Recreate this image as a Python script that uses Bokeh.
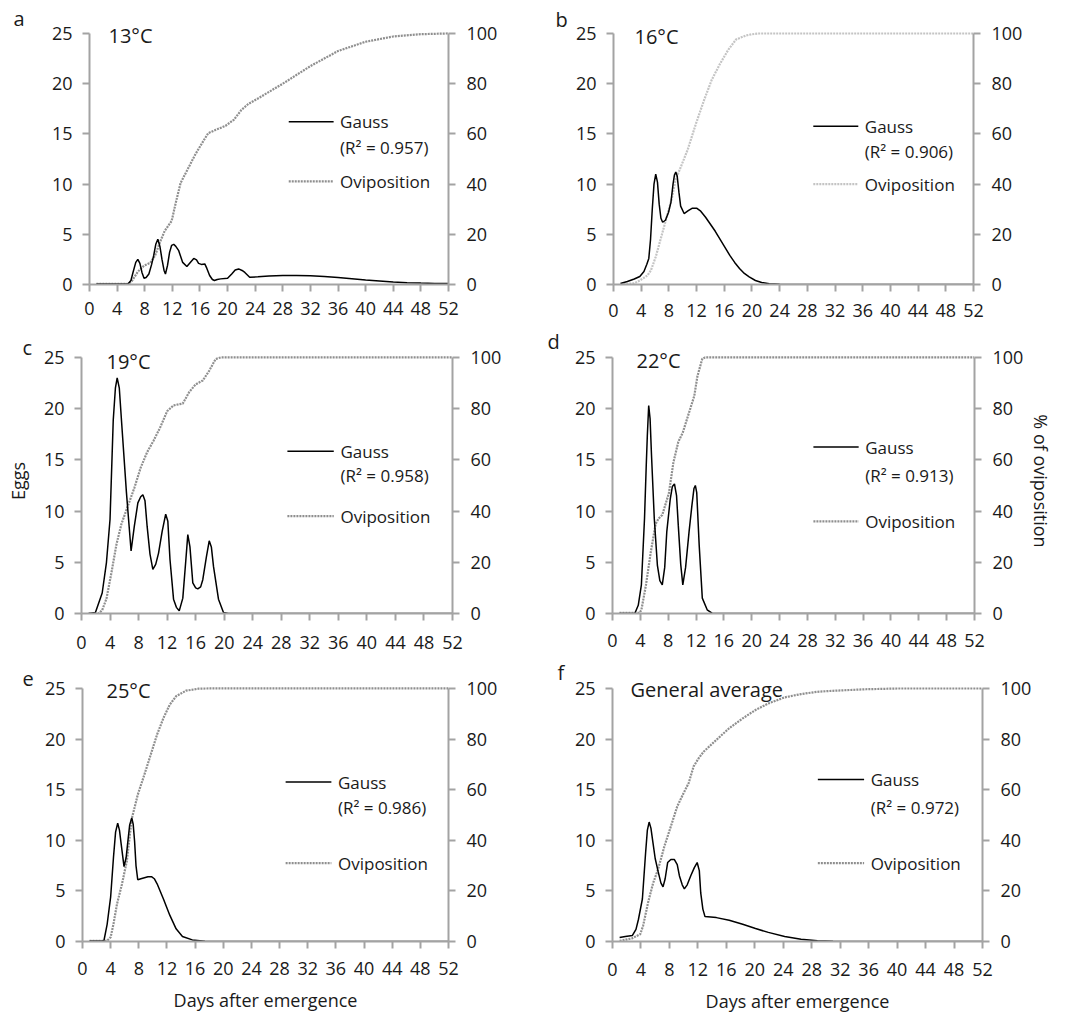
from bokeh.plotting import figure
from bokeh.models import Range1d, LinearAxis, FixedTicker, Label, Arrow, Title
from bokeh.layouts import column, row
from bokeh.embed import file_html
from bokeh.resources import INLINE

FONT = "Open Sans"
TXT = "#1a1a1a"
AXC = "#a3a3a3"

# ---------------- data ----------------
x_ticks = list(range(0, 53, 4))
egg_ticks = [0, 5, 10, 15, 20, 25]
pct_ticks = [0, 20, 40, 60, 80, 100]

panel_letters = ["a", "b", "c", "d", "e", "f"]
panel_titles = ["13°C", "16°C", "19°C", "22°C", "25°C", "General average"]
r2_labels = ["(R² = 0.957)", "(R² = 0.906)", "(R² = 0.958)",
             "(R² = 0.913)", "(R² = 0.986)", "(R² = 0.972)"]

# 13 °C
gauss_a_day = [1, 3, 5.6, 6.0, 6.3, 6.7, 7.0, 7.3, 7.6, 7.9, 8.2, 8.6, 9.0, 9.3, 9.6, 9.9, 10.2, 10.5,
               10.8, 11.0, 11.3, 11.6, 11.9, 12.2, 12.5, 12.9, 13.5, 14.1, 14.6, 15.1, 15.5, 15.8, 16.2,
               16.7, 17.0, 17.4, 17.8, 18.1, 18.5, 19.0, 20.0, 20.6, 21.1, 21.6, 22.1, 22.5, 23.2, 24.4,
               26, 28, 30, 32, 34, 36, 38, 40, 42, 44, 46, 48, 50, 52]
gauss_a_eggs = [0.05, 0.05, 0.07, 0.4, 1.2, 2.2, 2.5, 2.1, 1.2, 0.63, 0.7, 1.05, 2.0, 2.9, 4.0, 4.5, 3.8,
                2.5, 1.4, 1.05, 1.9, 3.2, 3.9, 4.0, 3.8, 3.4, 2.2, 1.8, 2.2, 2.6, 2.45, 2.1, 2.0, 2.05,
                1.6, 0.9, 0.5, 0.4, 0.5, 0.56, 0.63, 1.05, 1.45, 1.55, 1.4, 1.2, 0.73, 0.76, 0.85, 0.9,
                0.9, 0.87, 0.8, 0.7, 0.58, 0.45, 0.35, 0.25, 0.18, 0.14, 0.11, 0.1]
ovi_a_day = [1, 5.6, 6.1, 7.0, 7.9, 8.8, 9.5, 10.2, 10.9, 11.9, 12.5, 13.2, 14.2, 15.3, 16.3, 17.2,
             18.3, 19.7, 20.9, 22.0, 23.0, 24.4, 28, 32, 36, 40, 44, 48, 52]
ovi_a_pct = [0.3, 0.3, 1.2, 5.1, 7.5, 8.6, 11.5, 16.8, 21.4, 25.3, 32.6, 40.5, 45.8, 51.7, 56.3, 60.3,
             61.6, 63.2, 65.6, 69.5, 71.9, 74.1, 80, 87, 93, 96.7, 98.8, 99.7, 100]

# 16 °C
gauss_b_day = [1.0, 2.0, 3.0, 3.8, 4.4, 4.8, 5.1, 5.35, 5.6, 5.85, 6.1, 6.35, 6.6, 6.85, 7.1, 7.5, 7.95,
               8.3, 8.6, 8.8, 9.0, 9.2, 9.45, 9.7, 10.2, 10.8, 11.4, 12.0, 12.6, 13.3, 14.0, 14.7, 15.4,
               16.1, 16.8, 17.5, 18.2, 18.9, 19.6, 20.5, 21.4, 22.5, 24, 28, 52]
gauss_b_eggs = [0.1, 0.3, 0.55, 0.8, 1.3, 2.0, 2.6, 4.5, 7.5, 10.0, 11.0, 10.2, 8.0, 6.6, 6.2, 6.4, 7.2,
                8.2, 10.0, 10.9, 11.2, 10.8, 9.2, 7.8, 7.07, 7.35, 7.6, 7.6, 7.3, 6.7, 6.0, 5.3, 4.5,
                3.7, 2.9, 2.2, 1.6, 1.1, 0.75, 0.4, 0.2, 0.07, 0.02, 0, 0]
ovi_b_day = [1, 3, 3.8, 4.9, 5.4, 6.1, 6.8, 7.3, 8.4, 9.0, 9.6, 10.7, 11.9, 13.1, 14.2, 15.4, 16.6,
             17.7, 19.1, 20.0, 21.0, 22, 52]
ovi_b_pct = [0, 0.5, 1.6, 3.6, 5.6, 11, 18, 23, 34, 42, 46, 53.6, 64, 73.6, 81.6, 88, 93.6, 97.6,
             99.2, 99.7, 100, 100, 100]

# 19 °C
gauss_c_day = [1.0, 1.95, 2.9, 3.5, 4.0, 4.45, 4.75, 5.0, 5.3, 5.6, 6.3, 6.95, 7.4, 7.9, 8.3, 8.6, 8.9,
               9.2, 9.6, 10.0, 10.4, 10.8, 11.3, 11.8, 12.1, 12.4, 12.9, 13.3, 13.7, 14.2, 14.6, 14.9,
               15.2, 15.6, 16.0, 16.3, 16.7, 17.0, 17.5, 17.9, 18.2, 18.5, 19.2, 19.9, 20.6, 22, 52]
gauss_c_eggs = [0, 0.1, 2.0, 5.0, 9.2, 18.9, 22.0, 23.0, 22.0, 18.9, 11.8, 6.1, 8.5, 10.8, 11.4, 11.6,
                11.0, 8.5, 5.8, 4.3, 4.8, 5.9, 8.0, 9.7, 9.0, 5.3, 1.4, 0.6, 0.26, 1.5, 5.0, 7.7, 6.5,
                3.0, 2.5, 2.4, 2.6, 3.3, 5.5, 7.1, 6.5, 4.6, 1.4, 0.1, 0, 0, 0]
ovi_c_day = [1, 2.4, 2.9, 3.5, 4.2, 4.9, 5.6, 6.5, 7.4, 8.3, 9.2, 10.1, 11.0, 12.0, 12.9, 14.2, 15.1,
             16.0, 17.0, 17.9, 18.8, 19.5, 52]
ovi_c_pct = [0, 0, 1.3, 5.8, 16, 27, 35, 42, 49, 57, 63, 67.5, 72.5, 79, 81.3, 82, 86.5, 89.5, 91,
             94.8, 99.4, 100, 100]

# 22 °C
gauss_d_day = [1, 3.2, 3.7, 4.15, 4.6, 4.85, 5.0, 5.2, 5.4, 5.6, 6.0, 6.45, 6.8, 7.15, 7.5, 7.8, 8.3,
               8.6, 8.9, 9.2, 9.45, 9.8, 10.1, 10.5, 11.0, 11.4, 11.7, 11.9, 12.1, 12.45, 12.9, 13.6,
               14.3, 15, 52]
gauss_d_eggs = [0, 0, 0.8, 2.8, 9.3, 14.5, 17.3, 20.3, 19.0, 15.5, 9.3, 4.7, 3.2, 2.8, 4.5, 8.0, 11.2,
                12.4, 12.65, 11.5, 8.6, 4.8, 2.8, 4.5, 8.0, 10.5, 12.2, 12.5, 11.8, 6.7, 1.5, 0.36,
                0.03, 0, 0]
ovi_d_day = [1, 3.9, 4.15, 4.8, 5.5, 6.2, 6.6, 7.15, 8.1, 8.75, 9.45, 10.1, 11.0, 11.75, 12.2, 12.9,
             13.3, 52]
ovi_d_pct = [0.3, 0.3, 1.4, 11, 24, 35, 37, 38.5, 47, 59, 67, 70.7, 78.5, 85, 92.7, 99.5, 100, 100]

# 25 °C
gauss_e_day = [1, 2.8, 3.05, 3.5, 4.0, 4.4, 4.7, 5.0, 5.25, 5.5, 5.9, 6.2, 6.4, 6.7, 7.0, 7.2, 7.4,
               7.6, 7.85, 8.3, 8.8, 9.3, 9.8, 10.2, 10.6, 11.5, 12.4, 13.3, 14.2, 15.6, 17.4, 19, 52]
gauss_e_eggs = [0.05, 0.05, 0.1, 1.7, 4.4, 8.3, 10.8, 11.7, 11.0, 9.6, 7.4, 8.3, 9.6, 11.5, 12.2, 11.6,
                9.9, 7.5, 6.1, 6.2, 6.3, 6.4, 6.4, 6.2, 5.7, 4.2, 2.6, 1.25, 0.5, 0.16, 0.03, 0, 0]
ovi_e_day = [1, 3.5, 4.0, 4.4, 4.9, 5.6, 6.3, 7.0, 7.85, 8.8, 9.7, 10.6, 11.5, 12.4, 13.3, 14.7, 16.5,
             18, 52]
ovi_e_pct = [0.3, 0.3, 1.7, 6.9, 14.8, 22.6, 31.8, 48.5, 58, 66, 73.9, 81.8, 88.3, 93.6, 96.9, 99.1,
             99.9, 100, 100]

# general average
gauss_f_day = [1.0, 1.8, 2.8, 3.3, 3.65, 4.2, 4.65, 4.9, 5.15, 5.4, 5.7, 6.0, 6.4, 6.8, 7.1, 7.4, 7.75,
               8.2, 8.7, 9.1, 9.4, 9.8, 10.1, 10.5, 11.0, 11.5, 11.9, 12.2, 12.4, 12.7, 13.0, 14.6,
               16.4, 18.3, 20.1, 21.9, 24.2, 26.5, 28.8, 31, 34, 52]
gauss_f_eggs = [0.4, 0.5, 0.6, 1.2, 2.2, 4.2, 8.75, 11.0, 11.8, 11.2, 9.7, 8.2, 6.95, 5.8, 5.4, 6.2,
                7.8, 8.1, 8.1, 7.6, 6.5, 5.6, 5.2, 5.6, 6.5, 7.3, 7.8, 7.0, 4.8, 3.2, 2.46, 2.36, 2.1,
                1.7, 1.28, 0.9, 0.5, 0.23, 0.07, 0.02, 0, 0]
ovi_f_day = [1, 2.7, 3.9, 4.3, 5.0, 5.7, 6.4, 7.3, 8.2, 9.1, 10.0, 10.7, 11.4, 12.1, 12.8, 14.6, 16.4,
             18.3, 20.1, 21.9, 24.2, 26.5, 28.8, 31, 35.6, 40, 52]
ovi_f_pct = [0.26, 1.2, 2.9, 6.2, 15.4, 23, 28.5, 37.7, 45.5, 53.4, 58.7, 62.6, 69.2, 72.4, 75, 79.7,
             84.3, 88.2, 91.5, 94.1, 96.5, 97.8, 98.7, 99.1, 99.7, 100, 100]

gauss_days = [gauss_a_day, gauss_b_day, gauss_c_day, gauss_d_day, gauss_e_day, gauss_f_day]
gauss_eggs = [gauss_a_eggs, gauss_b_eggs, gauss_c_eggs, gauss_d_eggs, gauss_e_eggs, gauss_f_eggs]
ovi_days = [ovi_a_day, ovi_b_day, ovi_c_day, ovi_d_day, ovi_e_day, ovi_f_day]
ovi_pcts = [ovi_a_pct, ovi_b_pct, ovi_c_pct, ovi_d_pct, ovi_e_pct, ovi_f_pct]

# ---------------- layout (page pixels) ----------------
col_edges = [(0, 535), (535, 1065)]
row_edges = [(0, 327), (327, 657), (657, 1015)]
row_pad = [7, 9, 11]  # empty plot area kept above the 25 tick
# frame: x of day 0, x of day 52, y of 25 eggs, y of 0 eggs
frames = [(89, 448, 33, 286), (613, 973, 33, 284),
          (81, 452, 356, 613), (612, 974, 357, 615),
          (82, 448, 688, 943), (612, 982, 688, 941)]
title_dx = [19, 21, 25, 24, 24, 18]           # temperature label left edge from frame left
title_mid = [2.5, 2.5, 4.5, 3.5, 2.0, 1.0]    # temperature label centre below the 25 tick
letter_left = [13, 555, 22, 547, 22, 557]     # page x of panel letter
letter_base = [26, 26.7, 353.3, 348.8, 680, 679.5]  # page y of panel letter baseline
x_label_standoff = [10, 12, 15, 13, 13, 14]
legend_rows = [(0.352, 0.455, 0.589), (0.37, 0.47, 0.60), (0.366, 0.46, 0.62),
               (0.35, 0.46, 0.64), (0.37, 0.47, 0.69), (0.36, 0.47, 0.69)]
ovi_colors = ["#8f8f8f", "#c4c4c4", "#8f8f8f", "#8f8f8f", "#8f8f8f", "#8f8f8f"]
LETTER_SIZE = 20
DESCENT = 0.285 * LETTER_SIZE


def style_axis(ax, standoff):
    ax.axis_line_color = AXC
    ax.axis_line_width = 2
    ax.major_tick_line_color = AXC
    ax.major_tick_line_width = 2
    ax.major_tick_out = 7
    ax.major_tick_in = 0
    ax.minor_tick_line_color = None
    ax.major_label_text_font = FONT
    ax.major_label_text_font_size = "18px"
    ax.major_label_text_color = TXT
    ax.major_label_standoff = standoff
    ax.axis_label_text_font = FONT
    ax.axis_label_text_font_size = "18px"
    ax.axis_label_text_font_style = "normal"
    ax.axis_label_text_color = TXT


def make_panel(i):
    c0, c1 = col_edges[i % 2]
    r0, r1 = row_edges[i // 2]
    pad = row_pad[i // 2]
    fx0, fx1, fy25, fy0 = frames[i]
    W, H = c1 - c0, r1 - r0
    ftop = fy25 - pad
    bl, br, bt, bb = fx0 - c0, c1 - fx1, ftop - r0, r1 - fy0
    fw = fx1 - fx0
    ppe = (fy0 - fy25) / 25.0  # pixels per egg
    ytop = 25.0 + pad / ppe

    p = figure(width=W, height=H, x_range=Range1d(0, 52), y_range=Range1d(0, ytop),
               output_backend="svg", toolbar_location=None, title=None,
               min_border_left=bl, min_border_right=br, min_border_top=bt, min_border_bottom=bb)
    p.extra_y_ranges = {"pct": Range1d(0, ytop * 4.0)}
    p.outline_line_color = None
    p.xgrid.visible = False
    p.ygrid.visible = False
    p.background_fill_color = "white"
    p.border_fill_color = "white"

    p.xaxis.ticker = FixedTicker(ticks=x_ticks)
    p.yaxis.ticker = FixedTicker(ticks=egg_ticks)
    p.yaxis.bounds = (0, 25)
    style_axis(p.xaxis[0], x_label_standoff[i])
    style_axis(p.yaxis[0], 10)
    right = LinearAxis(y_range_name="pct", ticker=FixedTicker(ticks=pct_ticks), bounds=(0, 100))
    style_axis(right, 11)
    p.add_layout(right, "right")

    if i == 2:
        p.yaxis[0].axis_label = "Eggs"
        p.yaxis[0].axis_label_standoff = 11
    if i == 3:
        right.axis_label = "% of oviposition"
        right.axis_label_standoff = 3
    if i in (4, 5):
        p.xaxis[0].axis_label = "Days after emergence"
        p.xaxis[0].axis_label_standoff = 10

    ovi_col = ovi_colors[i]
    p.line(ovi_days[i], ovi_pcts[i], y_range_name="pct", line_color=ovi_col,
           line_width=2.2, line_dash="2 1")
    p.line(gauss_days[i], gauss_eggs[i], line_color="black", line_width=1.5)

    # panel letter (outside the plot area, in the top border)
    standoff = 2.0 * (ftop - letter_base[i] - DESCENT)
    p.add_layout(Title(text=panel_letters[i], align="left", offset=letter_left[i] - fx0,
                       standoff=standoff, text_font=FONT, text_font_size=f"{LETTER_SIZE}px",
                       text_font_style="normal", text_color=TXT), "above")
    # temperature label
    p.add_layout(Label(x=title_dx[i] / fw * 52.0, y=25.0 - title_mid[i] / ppe, text=panel_titles[i],
                       text_font=FONT, text_font_size="20px", text_color=TXT,
                       text_align="left", text_baseline="middle"))

    # legend
    g_y, r_y, o_y = legend_rows[i]
    x0, x1, xt = 0.555 * 52, 0.68 * 52, 0.698 * 52
    p.add_layout(Arrow(end=None, x_start=x0, x_end=x1, y_start=25 * (1 - g_y), y_end=25 * (1 - g_y),
                       line_color="black", line_width=1.5))
    p.add_layout(Arrow(end=None, x_start=x0, x_end=x1, y_start=25 * (1 - o_y), y_end=25 * (1 - o_y),
                       line_color=ovi_col, line_width=2.2, line_dash="2 1"))
    for txt, fy in (("Gauss", g_y), (r2_labels[i], r_y), ("Oviposition", o_y)):
        p.add_layout(Label(x=xt, y=25 * (1 - fy), text=txt, text_font=FONT,
                           text_font_size="17px", text_color=TXT,
                           text_align="left", text_baseline="middle"))
    return p


panels = [make_panel(i) for i in range(6)]
layout = column(row(panels[0], panels[1]), row(panels[2], panels[3]), row(panels[4], panels[5]))

open("out.html", "w").write(file_html(layout, INLINE))
